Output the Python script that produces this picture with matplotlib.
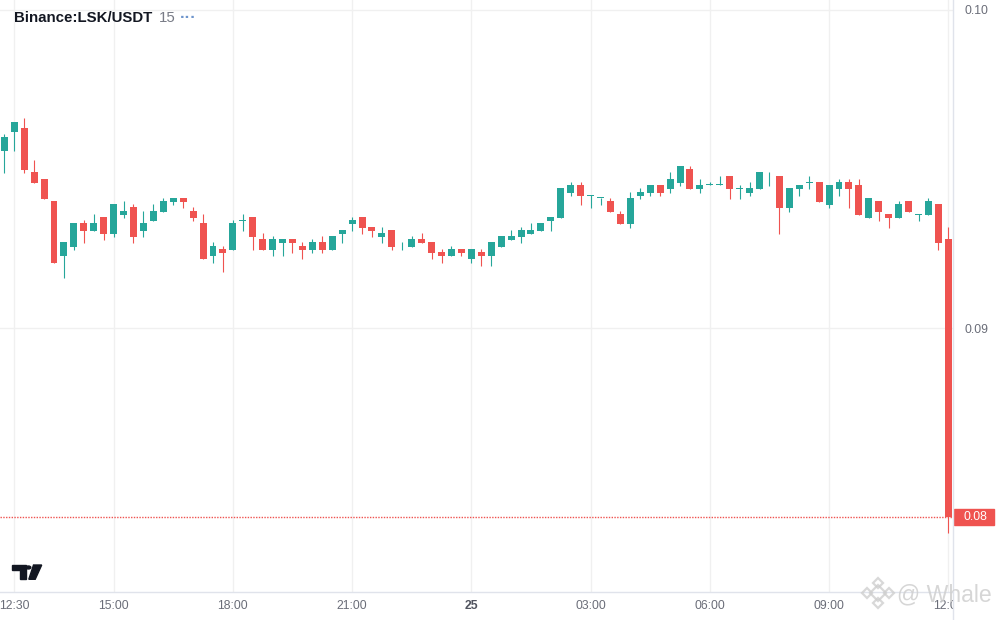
import numpy as np
import pandas as pd
import matplotlib
matplotlib.use("Agg")
import matplotlib.pyplot as plt
from matplotlib.patches import Polygon, Circle, Rectangle
from matplotlib.lines import Line2D
from matplotlib.transforms import blended_transform_factory

plt.rcParams['font.family'] = ['Liberation Sans', 'DejaVu Sans']

# Binance:LSK/USDT, 15 minute candles
times = pd.date_range("2024-01-24 12:15", periods=96, freq="15min")

opens = [0.09558, 0.09618, 0.09629, 0.09491, 0.09469, 0.09401, 0.09228, 0.09256, 0.09331, 0.09307,
         0.09350, 0.09297, 0.09357, 0.09381, 0.09307, 0.09338, 0.09366, 0.09398, 0.09409, 0.09369,
         0.09331, 0.09228, 0.09249, 0.09247, 0.09337, 0.09350, 0.09281, 0.09247, 0.09269, 0.09281,
         0.09259, 0.09247, 0.09271, 0.09246, 0.09296, 0.09328, 0.09350, 0.09318, 0.09287, 0.09309,
         0.09257, 0.09255, 0.09281, 0.09271, 0.09240, 0.09227, 0.09249, 0.09218, 0.09240, 0.09227,
         0.09255, 0.09277, 0.09287, 0.09296, 0.09306, 0.09337, 0.09347, 0.09425, 0.09450, 0.09417,
         0.09408, 0.09400, 0.09359, 0.09328, 0.09416, 0.09425, 0.09450, 0.09438, 0.09456, 0.09500,
         0.09438, 0.09449, 0.09449, 0.09478, 0.09439, 0.09425, 0.09438, 0.09477, 0.09478, 0.09378,
         0.09438, 0.09458, 0.09460, 0.09387, 0.09438, 0.09460, 0.09450, 0.09347, 0.09400, 0.09359,
         0.09347, 0.09400, 0.09357, 0.09356, 0.09390, 0.09281]
highs = [0.09610, 0.09648, 0.09661, 0.09529, 0.09469, 0.09401, 0.09271, 0.09331, 0.09340, 0.09359,
         0.09350, 0.09390, 0.09400, 0.09390, 0.09369, 0.09390, 0.09409, 0.09409, 0.09409, 0.09381,
         0.09359, 0.09271, 0.09259, 0.09340, 0.09359, 0.09350, 0.09299, 0.09290, 0.09281, 0.09281,
         0.09271, 0.09281, 0.09290, 0.09290, 0.09309, 0.09350, 0.09350, 0.09318, 0.09318, 0.09309,
         0.09271, 0.09290, 0.09299, 0.09271, 0.09249, 0.09259, 0.09249, 0.09249, 0.09249, 0.09271,
         0.09290, 0.09309, 0.09318, 0.09331, 0.09331, 0.09350, 0.09441, 0.09460, 0.09460, 0.09419,
         0.09409, 0.09409, 0.09369, 0.09428, 0.09441, 0.09450, 0.09450, 0.09491, 0.09510, 0.09510,
         0.09469, 0.09460, 0.09478, 0.09478, 0.09450, 0.09460, 0.09491, 0.09491, 0.09478, 0.09441,
         0.09450, 0.09478, 0.09460, 0.09450, 0.09469, 0.09469, 0.09469, 0.09409, 0.09400, 0.09359,
         0.09400, 0.09400, 0.09359, 0.09409, 0.09390, 0.09318]
lows = [0.09489, 0.09558, 0.09489, 0.09457, 0.09407, 0.09206, 0.09159, 0.09247, 0.09269, 0.09307,
        0.09278, 0.09288, 0.09347, 0.09269, 0.09288, 0.09338, 0.09366, 0.09388, 0.09379, 0.09338,
        0.09219, 0.09206, 0.09178, 0.09247, 0.09307, 0.09247, 0.09247, 0.09228, 0.09228, 0.09238,
        0.09219, 0.09238, 0.09238, 0.09246, 0.09269, 0.09306, 0.09296, 0.09287, 0.09268, 0.09246,
        0.09246, 0.09255, 0.09268, 0.09218, 0.09205, 0.09227, 0.09227, 0.09205, 0.09196, 0.09196,
        0.09255, 0.09277, 0.09269, 0.09296, 0.09306, 0.09306, 0.09347, 0.09416, 0.09387, 0.09378,
        0.09387, 0.09365, 0.09328, 0.09315, 0.09406, 0.09416, 0.09416, 0.09425, 0.09447, 0.09438,
        0.09425, 0.09449, 0.09449, 0.09406, 0.09406, 0.09416, 0.09438, 0.09447, 0.09296, 0.09365,
        0.09416, 0.09438, 0.09397, 0.09378, 0.09416, 0.09378, 0.09356, 0.09347, 0.09337, 0.09315,
        0.09347, 0.09365, 0.09337, 0.09356, 0.09246, 0.08357]
closes = [0.09601, 0.09648, 0.09498, 0.09457, 0.09407, 0.09206, 0.09271, 0.09331, 0.09307, 0.09331,
          0.09297, 0.09390, 0.09369, 0.09288, 0.09331, 0.09369, 0.09400, 0.09409, 0.09398, 0.09347,
          0.09219, 0.09259, 0.09238, 0.09331, 0.09340, 0.09288, 0.09247, 0.09281, 0.09281, 0.09269,
          0.09247, 0.09271, 0.09247, 0.09290, 0.09309, 0.09340, 0.09316, 0.09306, 0.09299, 0.09255,
          0.09259, 0.09281, 0.09268, 0.09237, 0.09227, 0.09249, 0.09237, 0.09249, 0.09227, 0.09271,
          0.09290, 0.09290, 0.09309, 0.09309, 0.09331, 0.09350, 0.09441, 0.09450, 0.09416, 0.09419,
          0.09409, 0.09365, 0.09328, 0.09409, 0.09428, 0.09450, 0.09425, 0.09469, 0.09510, 0.09438,
          0.09450, 0.09450, 0.09450, 0.09438, 0.09441, 0.09441, 0.09491, 0.09478, 0.09378, 0.09441,
          0.09450, 0.09460, 0.09397, 0.09450, 0.09460, 0.09438, 0.09356, 0.09409, 0.09365, 0.09347,
          0.09390, 0.09365, 0.09359, 0.09400, 0.09268, 0.08407]

tick_times = ["2024-01-24 12:30", "2024-01-24 15:00", "2024-01-24 18:00", "2024-01-24 21:00",
              "2024-01-25 00:00", "2024-01-25 03:00", "2024-01-25 06:00", "2024-01-25 09:00",
              "2024-01-25 12:00"]
tick_labels = ["12:30", "15:00", "18:00", "21:00", "25", "03:00", "06:00", "09:00", "12:00"]
price_ticks = [0.09, 0.10]

GREEN = "#26a69a"
RED = "#ef5350"
GRID = "#f0f0f0"
AXIS = "#e0e3eb"
TEXT = "#6a6d78"

opens = np.array(opens)
highs = np.array(highs)
lows = np.array(lows)
closes = np.array(closes)
x = np.arange(len(times))

fig = plt.figure(figsize=(10, 6.2), dpi=100)
ax = fig.add_axes([0, 28 / 620, 0.953, 592 / 620])

colors = np.where(closes >= opens, GREEN, RED)
ax.vlines(x, lows, highs, colors=colors, linewidth=0.8, zorder=3)
body_bottom = np.minimum(opens, closes)
body_h = np.maximum(np.abs(closes - opens), 0.00003)
ax.bar(x, body_h, bottom=body_bottom, width=0.7, color=colors, linewidth=0, zorder=4)

ax.set_xlim(-0.433, 95.47)
ax.set_ylim(0.081715, 0.100314)

# time axis
tick_idx = [times.get_loc(pd.Timestamp(t)) for t in tick_times]
ax.set_xticks(tick_idx)
ax.set_xticklabels(tick_labels)
ax.tick_params(axis="x", length=0, pad=6, labelsize=8.8, labelcolor=TEXT)
ax.get_xticklabels()[4].set_fontweight("bold")
ax.get_xticklabels()[4].set_color("#50535e")

# price axis
ax.yaxis.tick_right()
ax.set_yticks(price_ticks)
ax.set_yticklabels([f"{p:.2f}" for p in price_ticks])
ax.tick_params(axis="y", length=0, pad=8, labelsize=8.8, labelcolor=TEXT)

ax.grid(True, color=GRID, linewidth=1, zorder=0)
ax.set_axisbelow(True)
for s in ["top", "left", "right"]:
    ax.spines[s].set_visible(False)
ax.spines["bottom"].set_color(AXIS)
ax.spines["bottom"].set_linewidth(1)

# last price line and label
last = closes[-1]
ax.axhline(last, color=RED, linestyle=(0, (1, 1)), linewidth=1.0, zorder=2)
trans = blended_transform_factory(ax.transAxes, ax.transData)
y0, y1 = ax.get_ylim()
box_h = 16.6 * (y1 - y0) / 592
ax.add_patch(Rectangle((1.001, last - box_h / 2), 40 / 953, box_h, transform=trans,
                       color=RED, clip_on=False, zorder=5))
ax.text(975.5 / 953, last, f"{last:.2f}", transform=trans, ha="center", va="center",
        color="white", fontsize=8.8, zorder=6, clip_on=False)

# cover for the clipped last time label + right axis border
fig.add_artist(Rectangle((0.9535, 0), 0.05, 28 / 620, transform=fig.transFigure,
                         color="white", zorder=2))
fig.add_artist(Line2D([0.953, 0.953], [0, 1], transform=fig.transFigure,
                      color=AXIS, linewidth=1, zorder=3))


def fxy(px, py):
    return (px / 1000, 1 - py / 620)


# header
fig.text(*fxy(14, 18), "Binance:LSK/USDT", fontsize=10.8, fontweight="bold",
         color="#131722", va="center", ha="left")
fig.text(*fxy(159, 18), "15", fontsize=10.8, color="#787b86", va="center", ha="left")
fig.text(*fxy(180, 17), "\u00b7\u00b7\u00b7", fontsize=12, fontweight="bold",
         color="#6e95cc", va="center", ha="left")

# TradingView logo
logo = "#131722"
fig.add_artist(Polygon([fxy(12.3, 565), fxy(25.7, 565), fxy(25.7, 579.3), fxy(20, 579.3),
                        fxy(20, 570), fxy(12.3, 570)], closed=True, transform=fig.transFigure,
                       color=logo, zorder=4))
fig.add_artist(Circle(fxy(28.4, 567.5), 2.4 / 1000, transform=fig.transFigure,
                      color=logo, zorder=4))
fig.add_artist(Polygon([fxy(33.5, 565), fxy(41.7, 565), fxy(35.2, 579.3), fxy(28.8, 579.3)],
                       closed=True, transform=fig.transFigure, color=logo, zorder=4))

# watermark
wm = "#cfcfcf"
for cx, cy, r in [(878, 593, 5), (867, 593, 3), (889, 593, 3), (878, 583, 3.5), (878, 603, 3.5)]:
    fig.add_artist(Line2D([cx / 1000], [1 - cy / 620], transform=fig.transFigure, marker="D",
                          markersize=r * 1.6, markerfacecolor="none", markeredgecolor=wm,
                          markeredgewidth=1.6, alpha=0.8, zorder=8))
fig.text(*fxy(897, 595), "@ Whale", fontsize=16.6, color=wm, alpha=0.85,
         va="center", ha="left", zorder=8)

fig.savefig("out.png", dpi=100, facecolor="white")
